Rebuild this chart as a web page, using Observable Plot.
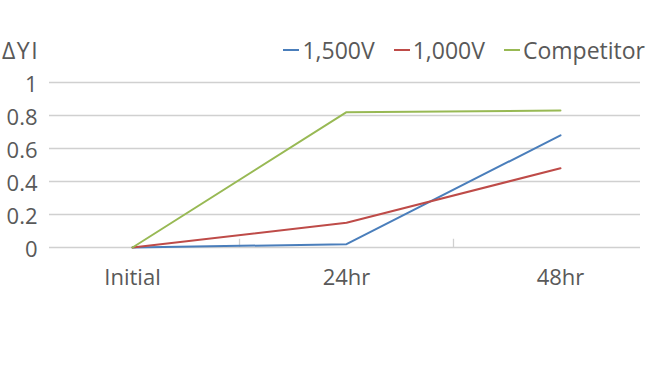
<!DOCTYPE html>
<html>
<head>
<meta charset="utf-8">
<script src="https://cdn.jsdelivr.net/npm/d3@7"></script>
<script src="https://cdn.jsdelivr.net/npm/@observablehq/plot@0.6"></script>
<style>
  html, body { margin: 0; padding: 0; background: #fff; }
  #wrap { position: relative; width: 650px; height: 386px; font-family: "Open Sans", sans-serif; color: #595959; }
  #ylab { position: absolute; left: 2px; top: 35px; font-size: 23px; line-height: 30px; letter-spacing: 1.5px; }
  #legend { position: absolute; right: 5px; top: 35px; font-size: 23px; line-height: 30px; display: flex; gap: 19px; }
  .item { display: flex; align-items: center; }
  .sw { display: inline-block; width: 16px; height: 2.5px; margin-right: 3px; }
  svg { position: absolute; left: 0; top: 0; }
</style>
</head>
<body>
<div id="wrap">
  <div id="ylab">ΔYI</div>
  <div id="legend"></div>
</div>
<script>
const categories = ["Initial", "24hr", "48hr"];
const seriesNames = ["1,500V", "1,000V", "Competitor"];
const v1500 = [0, 0.02, 0.68];
const v1000 = [0, 0.15, 0.48];
const vComp = [0, 0.82, 0.83];
const colors = ["#4a7ebb", "#be4b48", "#98b954"];
const yTicks = [0, 0.2, 0.4, 0.6, 0.8, 1];

const rows = [];
[v1500, v1000, vComp].forEach((vals, s) => {
  vals.forEach((v, i) => rows.push({series: seriesNames[s], idx: i, value: v}));
});

const chart = Plot.plot({
  width: 650,
  height: 386,
  marginLeft: 49,
  marginRight: 10,
  marginTop: 82,
  marginBottom: 139,
  style: {fontFamily: "Open Sans, sans-serif", fontSize: "22px", color: "#595959", background: "transparent"},
  x: {type: "linear", domain: [-0.388, 2.374]},
  y: {domain: [0, 1]},
  color: {domain: seriesNames, range: colors},
  marks: [
    Plot.ruleY(yTicks, {stroke: "#d0d0d0", strokeWidth: 1.3}),
    Plot.ruleX([0.5, 1.5], {y1: 0, y2: 0.05, stroke: "#d0d0d0", strokeWidth: 1.3}),
    Plot.axisY(yTicks, {tickSize: 0, tickPadding: 12, dy: 2, tickFormat: d => String(d), fill: "#595959", fontSize: 22, label: null}),
    Plot.axisX([0, 1, 2], {tickSize: 0, tickPadding: 22, tickFormat: i => categories[i], fill: "#595959", fontSize: 22, label: null}),
    Plot.line(rows, {x: "idx", y: "value", z: "series", stroke: "series", strokeWidth: 2})
  ]
});
document.getElementById("wrap").appendChild(chart);

const legend = document.getElementById("legend");
seriesNames.forEach((n, i) => {
  const it = document.createElement("div");
  it.className = "item";
  it.innerHTML = `<span class="sw" style="background:${colors[i]}"></span><span>${n}</span>`;
  legend.appendChild(it);
});
</script>
</body>
</html>
